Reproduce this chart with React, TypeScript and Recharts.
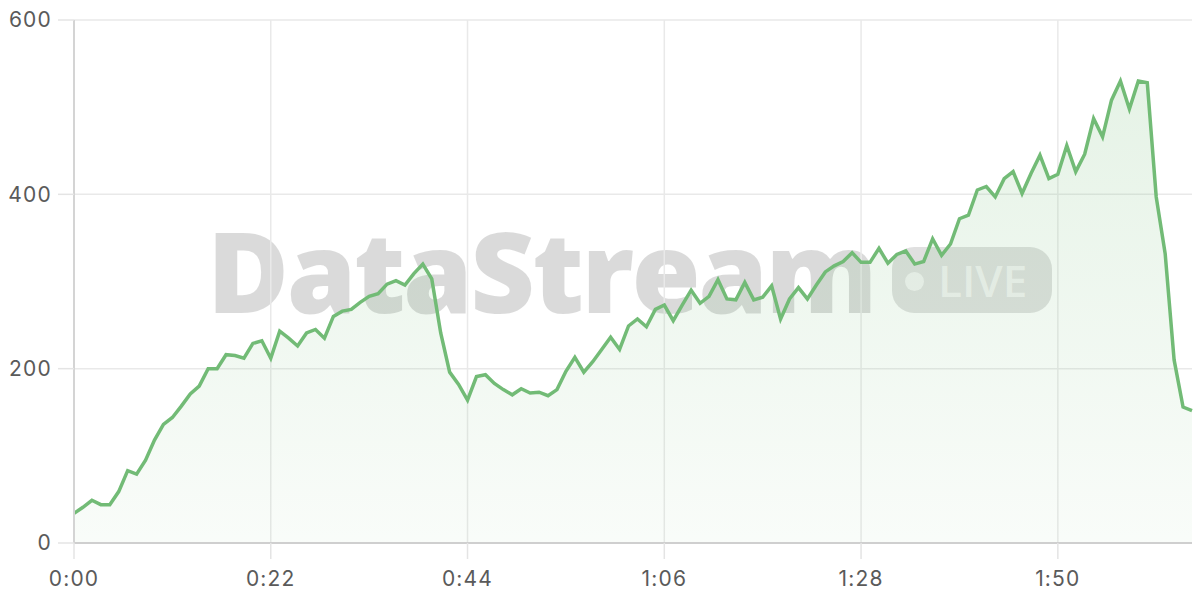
import React from "react";
import { AreaChart, Area, XAxis, YAxis, CartesianGrid } from "recharts";

const values: number[] = [
  34, 41, 49, 44, 44, 59, 83, 79, 95, 118,
  136, 144, 157, 171, 180, 200, 200, 216, 215, 212,
  229, 232, 212, 243, 235, 226, 241, 245, 235, 260,
  266, 268, 276, 283, 286, 297, 301, 296, 309, 320,
  303, 241, 196, 182, 164, 191, 193, 183, 176, 170,
  177, 172, 173, 169, 176, 197, 213, 196, 208, 222,
  236, 222, 249, 257, 248, 268, 273, 255, 273, 290,
  275, 283, 302, 280, 279, 299, 279, 282, 295, 257,
  280, 293, 280, 296, 311, 318, 323, 333, 322, 322,
  338, 321, 331, 335, 320, 323, 349, 330, 343, 372,
  376, 405, 409, 397, 418, 426, 401, 424, 445, 418,
  423, 456, 426, 446, 487, 466, 508, 530, 498, 530,
  528, 397, 332, 210, 156, 152,
];

const xTicks: number[] = [0, 22, 44, 66, 88, 110];
const yTicks: number[] = [0, 200, 400, 600];

const data = values.map((v, i) => ({ t: i, v }));

const fmt = (s: number) => `${Math.floor(s / 60)}:${String(s % 60).padStart(2, "0")}`;

const GREEN = "#72bb76";
const FONT = "Inter, 'Noto Sans', sans-serif";

export default function App() {
  return (
    <div style={{ position: "absolute", left: 0, top: 0, width: 1200, height: 600, background: "#fff", overflow: "hidden" }}>
      {/* watermark */}
      <div
        style={{
          position: "absolute",
          left: 207,
          top: 190,
          fontFamily: "'Open Sans', sans-serif",
          fontWeight: 800,
          fontSize: 112,
          letterSpacing: -2.5,
          lineHeight: "160px",
          color: "rgba(0,0,0,0.145)",
          whiteSpace: "nowrap",
        }}
      >
        DataStream
      </div>
      <div
        style={{
          position: "absolute",
          left: 892,
          top: 247,
          width: 160,
          height: 66,
          borderRadius: 22,
          background: "rgba(0,0,0,0.12)",
        }}
      >
        <div
          style={{
            position: "absolute",
            left: 13,
            top: 25,
            width: 19,
            height: 19,
            borderRadius: 10,
            background: "rgba(255,255,255,0.6)",
          }}
        />
        <div
          style={{
            position: "absolute",
            left: 46,
            top: 0,
            height: 66,
            lineHeight: "66px",
            fontFamily: "'Open Sans', sans-serif",
            fontWeight: 600,
            fontSize: 44,
            color: "rgba(255,255,255,0.6)",
            whiteSpace: "nowrap",
          }}
        >
          LIVE
        </div>
      </div>
      <div style={{ position: "absolute", left: 0, top: 0 }}>
        <AreaChart width={1200} height={600} data={data} margin={{ top: 20, right: 8, bottom: 0, left: 0 }}>
          <defs>
            <linearGradient id="fillG" x1="0" y1="0" x2="0" y2="1">
              <stop offset="0%" stopColor={GREEN} stopOpacity={0.3} />
              <stop offset="100%" stopColor={GREEN} stopOpacity={0.07} />
            </linearGradient>
          </defs>
          <CartesianGrid stroke="#e9e9e9" strokeWidth={1.5} horizontalValues={yTicks} verticalValues={xTicks} />
          <XAxis
            dataKey="t"
            type="number"
            domain={[0, 125]}
            ticks={xTicks}
            tickFormatter={fmt}
            height={57}
            axisLine={{ stroke: "#cfcfcf", strokeWidth: 2 }}
            tickLine={{ stroke: "#e4e4e4", strokeWidth: 1.5 }}
            tickSize={16}
            tickMargin={12}
            tick={{ fill: "#5a5a5a", fontSize: 21, fontFamily: FONT, letterSpacing: 1.2 }}
          />
          <YAxis
            type="number"
            domain={[0, 600]}
            ticks={yTicks}
            width={74}
            axisLine={{ stroke: "#d4d4d4", strokeWidth: 2 }}
            tickLine={{ stroke: "#e4e4e4", strokeWidth: 1.5 }}
            tickSize={16}
            tickMargin={6}
            tick={{ fill: "#5a5a5a", fontSize: 21, fontFamily: FONT, letterSpacing: 1.2 }}
          />
          <Area
            type="linear"
            dataKey="v"
            stroke={GREEN}
            strokeWidth={3.5}
            fill="url(#fillG)"
            isAnimationActive={false}
            dot={false}
            activeDot={false}
          />
        </AreaChart>
      </div>
    </div>
  );
}
